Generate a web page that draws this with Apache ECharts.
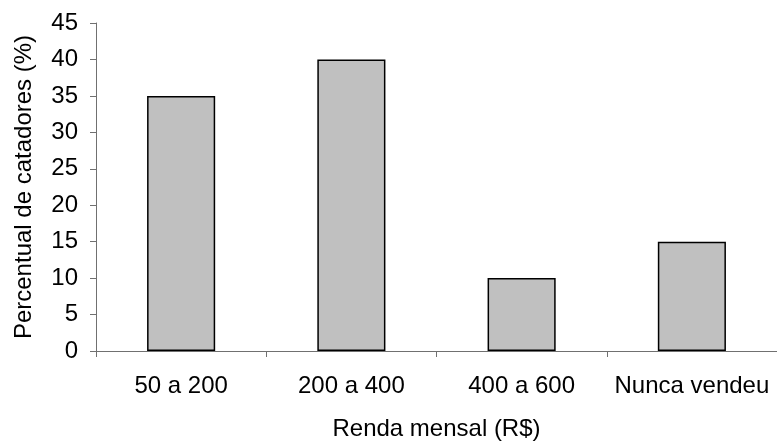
<!DOCTYPE html>
<html><head><meta charset="utf-8">
<script src="https://cdn.jsdelivr.net/npm/echarts@6/dist/echarts.min.js"></script>
<style>html,body{margin:0;padding:0;background:#fff}#c{width:777px;height:446px}</style>
</head><body><div id="c"></div>
<script>
const categories = ['50 a 200', '200 a 400', '400 a 600', 'Nunca vendeu'];
const values = [35, 40, 10, 15];
const xTitle = 'Renda mensal (R$)';
const yTitle = 'Percentual de catadores (%)';

const chart = echarts.init(document.getElementById('c'));
const font = '"Liberation Sans", Arial, sans-serif';
chart.setOption({
  animation: false,
  grid: {left: 96, top: 23, bottom: 90, right: -7},
  xAxis: {
    type: 'category', data: categories,
    name: xTitle, nameLocation: 'middle', nameGap: 78,
    nameTextStyle: {fontFamily: font, fontSize: 24, color: '#000', verticalAlign: 'middle'},
    axisLine: {lineStyle: {color: '#707070', width: 1}},
    axisTick: {show: true, length: 6, lineStyle: {color: '#707070'}},
    axisLabel: {fontFamily: font, fontSize: 24, color: '#000', margin: 23, interval: 0}
  },
  yAxis: {
    type: 'value', min: 0, max: 45, interval: 5,
    name: yTitle, nameLocation: 'middle', nameGap: 72,
    nameTextStyle: {fontFamily: font, fontSize: 24, color: '#000', verticalAlign: 'middle'},
    axisLine: {show: true, lineStyle: {color: '#707070', width: 1}},
    axisTick: {show: true, length: 6, lineStyle: {color: '#707070'}},
    splitLine: {show: false},
    axisLabel: {fontFamily: font, fontSize: 24, color: '#000', margin: 18}
  },
  series: [{
    type: 'bar', data: values, barWidth: '40%',
    itemStyle: {color: '#C0C0C0', borderColor: '#000', borderWidth: 1.5}
  }]
});
</script></body></html>
